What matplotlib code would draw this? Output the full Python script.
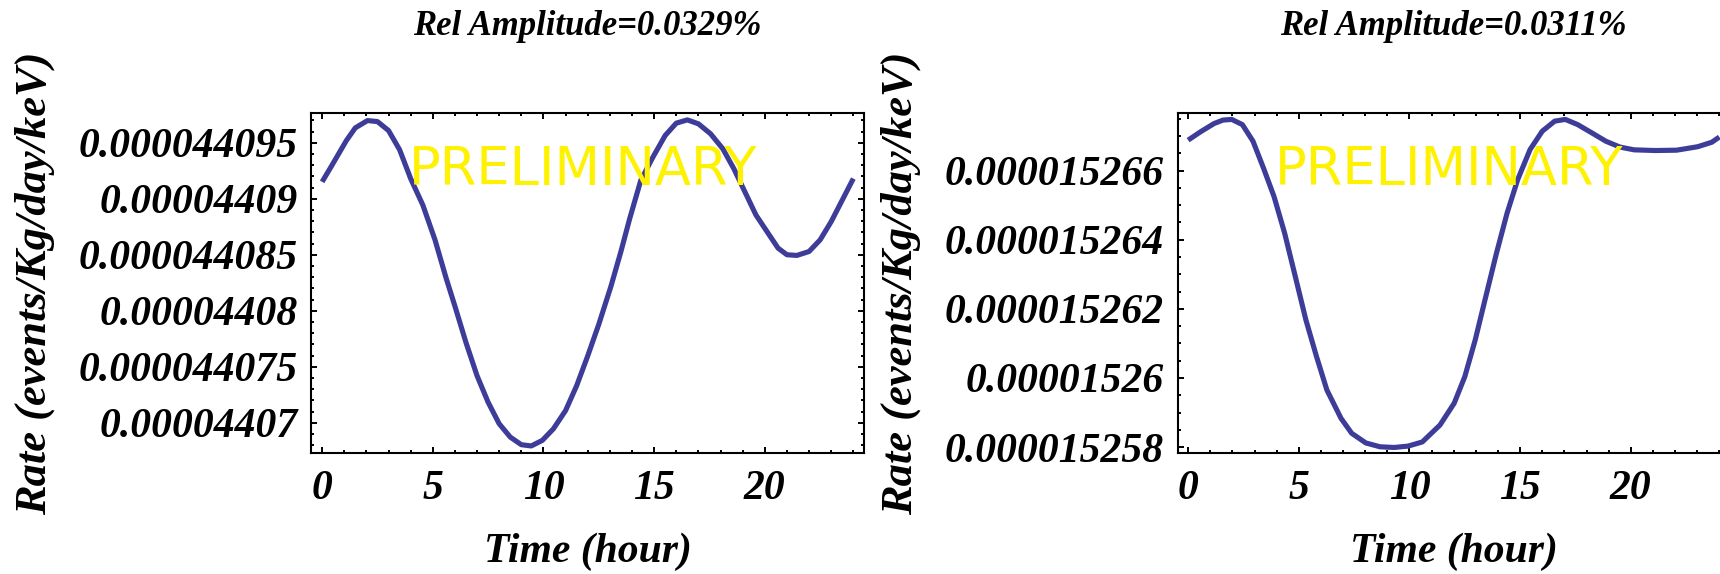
import matplotlib
matplotlib.use('Agg')
import matplotlib.pyplot as plt
from matplotlib.ticker import FixedLocator, MultipleLocator

# data (rates in events/Kg/day/keV)
hours_a = [0, 0.4, 1.1, 1.5, 2.05, 2.5, 3.0, 3.5, 4.0, 4.55, 5.1, 5.6, 6.0, 6.5,
           7.0, 7.5, 8.0, 8.5, 9.0, 9.45, 9.95, 10.45, 11.0, 11.5, 12.0, 12.5,
           13.05, 13.5, 13.9, 14.4, 14.95, 15.5, 16.0, 16.5, 17.0, 17.55, 18.1,
           18.6, 19.1, 19.6, 20.2, 20.6, 21.0, 21.45, 22.0, 22.5, 23.0, 23.5, 24.0]
rate_a = [44091.51e-9, 44092.84e-9, 44095.21e-9, 44096.33e-9, 44096.98e-9,
          44096.89e-9, 44096.09e-9, 44094.38e-9, 44091.80e-9, 44089.44e-9,
          44086.33e-9, 44082.93e-9, 44080.41e-9, 44077.16e-9, 44074.20e-9,
          44071.83e-9, 44069.91e-9, 44068.72e-9, 44068.04e-9, 44067.93e-9,
          44068.43e-9, 44069.46e-9, 44071.09e-9, 44073.31e-9, 44075.97e-9,
          44078.79e-9, 44082.19e-9, 44085.29e-9, 44088.25e-9, 44091.66e-9,
          44093.73e-9, 44095.65e-9, 44096.75e-9, 44097.04e-9, 44096.69e-9,
          44095.80e-9, 44094.47e-9, 44092.69e-9, 44090.62e-9, 44088.55e-9,
          44086.77e-9, 44085.59e-9, 44085.00e-9, 44084.94e-9, 44085.29e-9,
          44086.33e-9, 44087.96e-9, 44089.88e-9, 44091.80e-9]

hours_b = [0, 0.53, 1.17, 1.57, 1.97, 2.45, 2.93, 3.40, 3.88, 4.36, 4.84, 5.32,
           5.80, 6.27, 6.91, 7.39, 8.03, 8.67, 9.31, 9.94, 10.58, 11.38, 12.02,
           12.50, 12.97, 13.45, 13.93, 14.41, 14.89, 15.45, 16.0, 16.56, 17.04,
           17.60, 18.24, 18.87, 19.51, 20.15, 21.11, 22.07, 23.02, 23.66, 24.0]
rate_b = [15266.88e-9, 15267.11e-9, 15267.36e-9, 15267.46e-9, 15267.48e-9,
          15267.33e-9, 15266.85e-9, 15266.08e-9, 15265.25e-9, 15264.19e-9,
          15262.94e-9, 15261.68e-9, 15260.62e-9, 15259.65e-9, 15258.83e-9,
          15258.40e-9, 15258.12e-9, 15258.01e-9, 15257.99e-9, 15258.03e-9,
          15258.15e-9, 15258.64e-9, 15259.27e-9, 15260.04e-9, 15261.10e-9,
          15262.36e-9, 15263.61e-9, 15264.77e-9, 15265.74e-9, 15266.61e-9,
          15267.14e-9, 15267.43e-9, 15267.48e-9, 15267.33e-9, 15267.09e-9,
          15266.85e-9, 15266.68e-9, 15266.60e-9, 15266.58e-9, 15266.59e-9,
          15266.69e-9, 15266.82e-9, 15266.97e-9]

yticks_a = [44070e-9, 44075e-9, 44080e-9, 44085e-9, 44090e-9, 44095e-9]
ylabels_a = ['0.00004407', '0.000044075', '0.00004408', '0.000044085',
             '0.00004409', '0.000044095']
yticks_b = [15258e-9, 15260e-9, 15262e-9, 15264e-9, 15266e-9]
ylabels_b = ['0.000015258', '0.00001526', '0.000015262', '0.000015264',
             '0.000015266']
xticks = [0, 5, 10, 15, 20]
titles = ['Rel Amplitude=0.0329%', 'Rel Amplitude=0.0311%']

serif = 'Liberation Serif'
line_color = '#3d3d99'

fig = plt.figure(figsize=(17.2, 5.74), dpi=100)
ax_a = fig.add_axes([0.1811, 0.2108, 0.3212, 0.5932])
ax_b = fig.add_axes([0.6846, 0.2108, 0.3212, 0.5932])

panels = [
    (ax_a, hours_a, rate_a, yticks_a, ylabels_a, 1e-9, (44067.3e-9, 44097.7e-9)),
    (ax_b, hours_b, rate_b, yticks_b, ylabels_b, 0.5e-9, (15257.83e-9, 15267.68e-9)),
]

for i, (ax, t, r, yt, yl, yminor, ylim) in enumerate(panels):
    ax.plot(t, r, color=line_color, lw=3.7, solid_capstyle='butt')
    ax.set_xlim(-0.48, 24.48)
    ax.set_ylim(*ylim)
    ax.xaxis.set_major_locator(FixedLocator(xticks))
    ax.xaxis.set_minor_locator(MultipleLocator(1))
    ax.yaxis.set_major_locator(FixedLocator(yt))
    ax.yaxis.set_minor_locator(MultipleLocator(yminor))
    ax.set_yticklabels(yl)
    ax.set_xticklabels([str(x) for x in xticks])
    ax.tick_params(which='both', direction='in', top=True, right=True, width=1.4)
    ax.tick_params(which='major', length=4.5)
    ax.tick_params(which='minor', length=2.5)
    ax.tick_params(axis='y', pad=10)
    ax.tick_params(axis='x', pad=12)
    for lab in ax.get_xticklabels() + ax.get_yticklabels():
        lab.set_fontfamily(serif)
        lab.set_fontstyle('italic')
        lab.set_fontweight('bold')
        lab.set_fontsize(30)
    for s in ax.spines.values():
        s.set_linewidth(1.5)

    ax.set_xlabel('Time (hour)', fontfamily=serif, fontstyle='italic',
                  fontweight='bold', fontsize=30, va='center')
    ax.xaxis.set_label_coords(0.5, -0.291)
    ax.set_ylabel('Rate (events/Kg/day/keV)', fontfamily=serif, fontstyle='italic',
                  fontweight='bold', fontsize=32, va='center')
    ax.yaxis.set_label_coords(-0.501, 0.5)
    ax.set_title(titles[i], fontfamily=serif, fontstyle='italic',
                 fontweight='bold', fontsize=25, y=1.2526, pad=0, va='center')

    ax.text(11.79, 0.831, 'PRELIMINARY', transform=ax.get_xaxis_transform(),
            color='#fff200', fontsize=38, fontfamily='DejaVu Sans',
            ha='center', va='center')

fig.savefig('out.png', dpi=100)
